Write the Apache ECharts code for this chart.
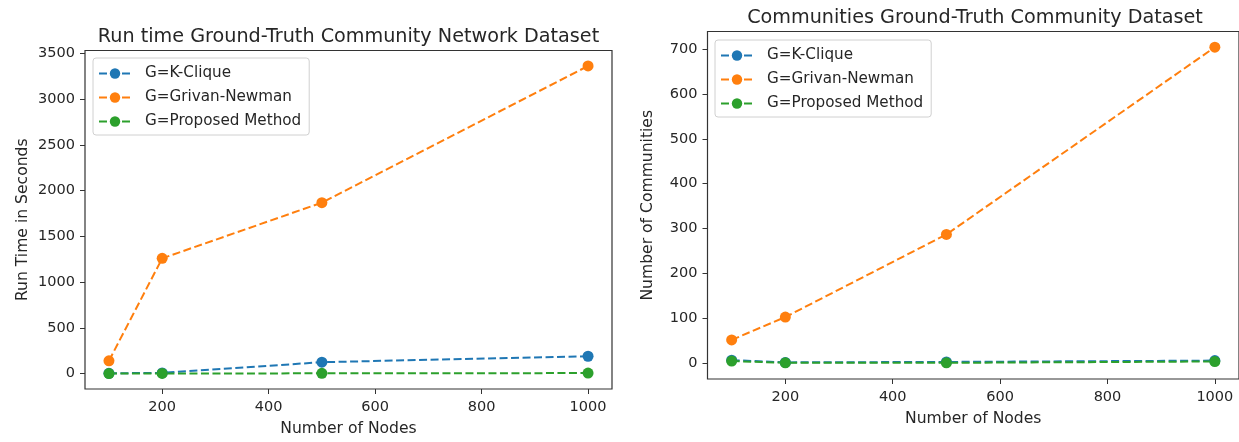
<!DOCTYPE html>
<html>
<head>
<meta charset="utf-8">
<title>Ground-Truth Community Network Dataset</title>
<script src="https://cdn.jsdelivr.net/npm/echarts@6/dist/echarts.min.js"></script>
<style>
  html, body { margin: 0; padding: 0; background: #ffffff; }
  #chart { width: 1239px; height: 442px; }
</style>
</head>
<body>
<div id="chart"></div>
<script>
// Number of nodes in each test network
const nodes = [100, 200, 500, 1000];

// Run time in seconds per method
const runKClique = [4, 8, 125, 190];
const runGirvan = [140, 1260, 1869, 3363];
const runProposed = [1, 2, 3, 6];

// Number of communities found per method
const commKClique = [7, 2, 3, 6];
const commGirvan = [52, 103, 287, 704];
const commProposed = [5, 1, 1, 4];

// Tick labels
const xTicks = [200, 400, 600, 800, 1000];
const runTicks = [0, 500, 1000, 1500, 2000, 2500, 3000, 3500];
const commTicks = [0, 100, 200, 300, 400, 500, 600, 700];

const seriesNames = ['G=K-Clique', 'G=Grivan-Newman', 'G=Proposed Method'];
const colors = ['#1f77b4', '#ff7f0e', '#2ca02c'];

const FONT = '"DejaVu Sans", sans-serif';
const TEXT = '#262626';

function pairs(ys) {
  return nodes.map((x, i) => [x, ys[i]]);
}

function plain(v) {
  return String(v);
}

function lineSeries(name, color, ys, axisIndex) {
  return {
    name: name,
    type: 'line',
    xAxisIndex: axisIndex,
    yAxisIndex: axisIndex,
    data: pairs(ys),
    symbol: 'circle',
    symbolSize: 11,
    showSymbol: true,
    animation: false,
    itemStyle: { color: color },
    lineStyle: { color: color, width: 2, type: [8, 3.5] },
    emphasis: { disabled: true }
  };
}

function xAxis(gridIndex) {
  return {
    type: 'value',
    gridIndex: gridIndex,
    min: 55,
    max: 1045,
    name: 'Number of Nodes',
    nameLocation: 'middle',
    nameGap: 32,
    nameTextStyle: { fontFamily: FONT, fontSize: 15.6, color: TEXT },
    axisLine: { show: false, onZero: false },
    splitLine: { show: false },
    axisTick: { show: true, length: 5, inside: false, customValues: xTicks,
                lineStyle: { color: '#333', width: 1 } },
    axisLabel: { customValues: xTicks, formatter: plain, margin: 11,
                 fontFamily: FONT, fontSize: 14.5, color: TEXT }
  };
}

function yAxis(gridIndex, min, max, ticks, name, gap) {
  return {
    type: 'value',
    gridIndex: gridIndex,
    min: min,
    max: max,
    name: name,
    nameLocation: 'middle',
    nameGap: gap,
    nameTextStyle: { fontFamily: FONT, fontSize: 15.6, color: TEXT },
    axisLine: { show: false, onZero: false },
    splitLine: { show: false },
    axisTick: { show: true, length: 5, inside: false, customValues: ticks,
                lineStyle: { color: '#333', width: 1 } },
    axisLabel: { customValues: ticks, formatter: plain, margin: 10,
                 fontFamily: FONT, fontSize: 14.5, color: TEXT }
  };
}

function legend(left, top) {
  return {
    orient: 'vertical',
    left: left,
    top: top,
    data: seriesNames,
    itemWidth: 32,
    itemHeight: 13,
    itemGap: 9,
    padding: [8, 8, 6, 5],
    backgroundColor: 'rgba(255,255,255,0.8)',
    borderColor: '#d0d0d0',
    borderWidth: 1,
    borderRadius: 3,
    selectedMode: false,
    textStyle: { fontFamily: FONT, fontSize: 15.2, color: TEXT, padding: [0, 0, 0, 9] }
  };
}

const chart = echarts.init(document.getElementById('chart'), null, { renderer: 'canvas' });

chart.setOption({
  backgroundColor: '#ffffff',
  animation: false,
  title: [
    {
      text: 'Run time Ground-Truth Community Network Dataset',
      left: 348.5, top: 28, padding: 0, textAlign: 'center',
      textStyle: { fontFamily: FONT, fontSize: 19.2, fontWeight: 'normal', color: TEXT }
    },
    {
      text: 'Communities Ground-Truth Community Dataset',
      left: 975, top: 9, padding: 0, textAlign: 'center',
      textStyle: { fontFamily: FONT, fontSize: 19.2, fontWeight: 'normal', color: TEXT }
    }
  ],
  legend: [legend(93, 58), legend(715, 40)],
  grid: [
    { left: 85, top: 50.5, width: 527, height: 342, show: true,
      borderColor: '#333', borderWidth: 1.2, backgroundColor: 'transparent' },
    { left: 707.5, top: 31.5, width: 535, height: 347.5, show: true,
      borderColor: '#333', borderWidth: 1.2, backgroundColor: 'transparent' }
  ],
  xAxis: [xAxis(0), xAxis(1)],
  yAxis: [
    yAxis(0, -168, 3532, runTicks, 'Run Time in Seconds', 54),
    yAxis(1, -35, 739, commTicks, 'Number of Communities', 52)
  ],
  series: [
    lineSeries(seriesNames[0], colors[0], runKClique, 0),
    lineSeries(seriesNames[1], colors[1], runGirvan, 0),
    lineSeries(seriesNames[2], colors[2], runProposed, 0),
    lineSeries(seriesNames[0], colors[0], commKClique, 1),
    lineSeries(seriesNames[1], colors[1], commGirvan, 1),
    lineSeries(seriesNames[2], colors[2], commProposed, 1)
  ]
});
</script>
</body>
</html>
